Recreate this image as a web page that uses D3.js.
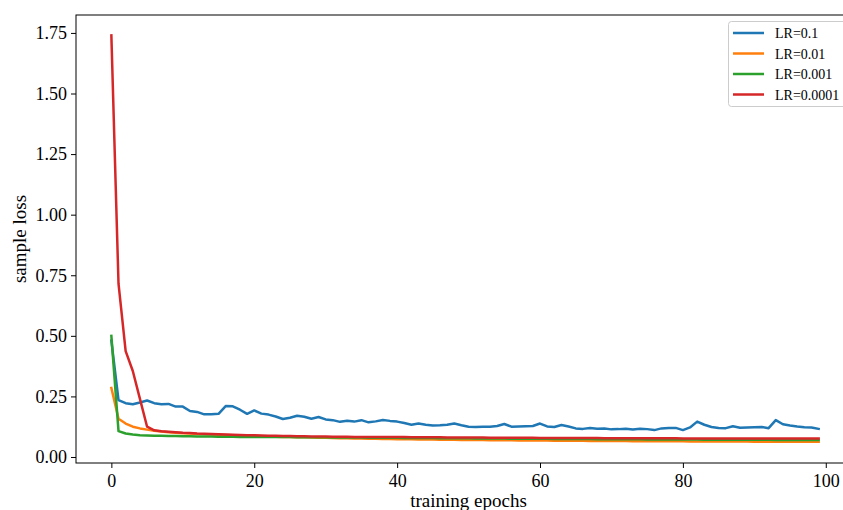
<!DOCTYPE html>
<html><head><meta charset="utf-8">
<script src="https://cdn.jsdelivr.net/npm/d3@7"></script>
<style>body{margin:0;background:#fff}svg{display:block;font-family:"Liberation Serif","Times New Roman",serif}</style>
</head><body><svg id="c" width="843" height="510"></svg>
<script>
const seriesNames = ["LR=0.1","LR=0.01","LR=0.001","LR=0.0001"];
const seriesColors = ["#1f77b4","#ff7f0e","#2ca02c","#d62728"];
const xTicks = [0,20,40,60,80,100];
const yTicks = [0,0.25,0.5,0.75,1.0,1.25,1.5,1.75];

const lr01 = [0.480,0.235,0.222,0.218,0.225,0.233,0.222,0.218,0.219,0.208,
0.208,0.190,0.186,0.176,0.176,0.178,0.210,0.209,0.195,0.178,
0.192,0.179,0.175,0.167,0.157,0.162,0.170,0.166,0.158,0.165,
0.155,0.152,0.145,0.150,0.146,0.152,0.143,0.147,0.153,0.149,
0.146,0.140,0.133,0.138,0.133,0.130,0.131,0.133,0.138,0.131,
0.125,0.124,0.125,0.125,0.128,0.136,0.125,0.126,0.127,0.128,
0.138,0.126,0.124,0.132,0.126,0.118,0.116,0.120,0.117,0.118,
0.114,0.115,0.117,0.113,0.117,0.115,0.111,0.118,0.120,0.120,
0.111,0.122,0.146,0.133,0.124,0.120,0.119,0.127,0.121,0.122,
0.123,0.124,0.119,0.152,0.135,0.130,0.126,0.123,0.122,0.116];

const lr001 = [0.285,0.158,0.138,0.125,0.118,0.113,0.108,0.105,0.102,0.100,
0.098,0.097,0.095,0.094,0.093,0.092,0.091,0.090,0.089,0.088,
0.087,0.086,0.085,0.084,0.083,0.082,0.081,0.081,0.080,0.079,
0.079,0.078,0.077,0.077,0.076,0.076,0.075,0.075,0.074,0.074,
0.073,0.073,0.073,0.072,0.072,0.072,0.071,0.071,0.071,0.070,
0.070,0.070,0.070,0.069,0.069,0.069,0.069,0.068,0.068,0.068,
0.068,0.068,0.067,0.067,0.067,0.067,0.067,0.066,0.066,0.066,
0.066,0.066,0.066,0.065,0.065,0.065,0.065,0.065,0.065,0.065,
0.065,0.064,0.064,0.064,0.064,0.064,0.064,0.064,0.064,0.064,
0.063,0.063,0.063,0.063,0.063,0.063,0.063,0.063,0.063,0.063];

const lr0001 = [0.500,0.107,0.097,0.093,0.090,0.089,0.088,0.088,0.087,0.087,
0.086,0.086,0.085,0.085,0.085,0.084,0.084,0.084,0.083,0.083,
0.083,0.083,0.082,0.082,0.082,0.082,0.081,0.081,0.081,0.081,
0.081,0.080,0.080,0.080,0.080,0.080,0.079,0.079,0.079,0.079,
0.079,0.078,0.078,0.078,0.078,0.078,0.077,0.077,0.077,0.077,
0.077,0.076,0.076,0.076,0.076,0.076,0.075,0.075,0.075,0.075,
0.075,0.075,0.074,0.074,0.074,0.074,0.074,0.074,0.073,0.073,
0.073,0.073,0.073,0.073,0.073,0.072,0.072,0.072,0.072,0.072,
0.072,0.072,0.072,0.071,0.071,0.071,0.071,0.071,0.071,0.071,
0.071,0.071,0.071,0.070,0.070,0.070,0.070,0.070,0.070,0.070];

const lr00001 = [1.740,0.715,0.437,0.355,0.240,0.125,0.110,0.106,0.104,0.102,
0.100,0.099,0.097,0.096,0.095,0.094,0.093,0.092,0.091,0.090,
0.090,0.089,0.088,0.088,0.087,0.087,0.086,0.086,0.085,0.085,
0.085,0.084,0.084,0.084,0.083,0.083,0.083,0.083,0.082,0.082,
0.082,0.082,0.081,0.081,0.081,0.081,0.081,0.080,0.080,0.080,
0.080,0.080,0.080,0.079,0.079,0.079,0.079,0.079,0.079,0.079,
0.078,0.078,0.078,0.078,0.078,0.078,0.078,0.078,0.078,0.077,
0.077,0.077,0.077,0.077,0.077,0.077,0.077,0.077,0.077,0.077,
0.076,0.076,0.076,0.076,0.076,0.076,0.076,0.076,0.076,0.076,
0.076,0.076,0.076,0.076,0.076,0.076,0.076,0.076,0.076,0.076];

const allSeries = [lr01, lr001, lr0001, lr00001];

const svg = d3.select("#c");
const L = 76, T = 15, R = 854, B = 463;
const x = d3.scaleLinear().domain([-4.95, 103.95]).range([L, R]);
const y = d3.scaleLinear().domain([-0.0248, 1.824]).range([B, T]);

// axes
const xa = svg.append("g").attr("transform", `translate(0,${B})`)
  .call(d3.axisBottom(x).tickValues(xTicks).tickSize(5).tickPadding(6).tickFormat(d3.format("d")));
const ya = svg.append("g").attr("transform", `translate(${L},0)`)
  .call(d3.axisLeft(y).tickValues(yTicks).tickSize(5).tickPadding(4).tickFormat(d3.format(".2f")));
[xa, ya].forEach(a => {
  a.select(".domain").remove();
  a.selectAll("text").attr("font-family", "Liberation Serif").attr("font-size", 18).attr("fill", "#000");
  a.selectAll("line").attr("stroke", "#000").attr("stroke-width", 1);
});

// spines
svg.append("rect").attr("x", L).attr("y", T).attr("width", R - L).attr("height", B - T)
  .attr("fill", "none").attr("stroke", "#000").attr("stroke-width", 1);

// lines
const line = d3.line().x((d, i) => x(i)).y(d => y(d));
allSeries.forEach((s, k) => {
  svg.append("path").datum(s).attr("d", line).attr("fill", "none")
    .attr("stroke", seriesColors[k]).attr("stroke-width", 2.5).attr("stroke-linejoin", "round").attr("stroke-linecap", "square");
});

// axis titles
svg.append("text").attr("x", x(50)).attr("y", 507).attr("text-anchor", "middle")
  .attr("font-size", 19).text("training epochs");
svg.append("text").attr("transform", `translate(26,${(T + B) / 2}) rotate(-90)`).attr("text-anchor", "middle")
  .attr("font-size", 19).text("sample loss");

// legend
const lg = svg.append("g");
lg.append("rect").attr("x", 728.5).attr("y", 21.5).attr("width", 118).attr("height", 85).attr("rx", 3)
  .attr("fill", "#fff").attr("fill-opacity", 0.8).attr("stroke", "#ccc").attr("stroke-width", 1);
seriesNames.forEach((n, k) => {
  const yy = 33 + k * 20.5;
  lg.append("line").attr("x1", 733).attr("x2", 764).attr("y1", yy).attr("y2", yy)
    .attr("stroke", seriesColors[k]).attr("stroke-width", 2.5);
  lg.append("text").attr("x", 775).attr("y", yy + 5).attr("font-size", 14).text(n);
});
</script></body></html>
